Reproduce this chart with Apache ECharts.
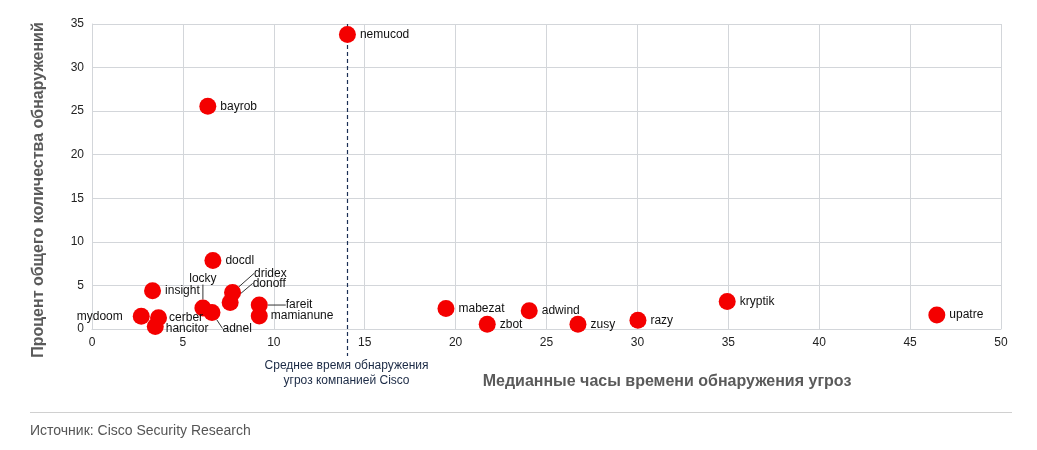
<!DOCTYPE html>
<html>
<head>
<meta charset="utf-8">
<script src="https://cdn.jsdelivr.net/npm/echarts@6/dist/echarts.min.js"></script>
<style>
html,body{margin:0;padding:0;background:#fff;}
#chart{width:1037px;height:450px;}
</style>
</head>
<body>
<div id="chart"></div>
<script>
// ---- data ----
var names = ['nemucod','bayrob','docdl','insight','dridex','donoff','locky','adnel','fareit','mamianune','mydoom','cerber','hancitor','mabezat','zbot','adwind','zusy','razy','kryptik','upatre'];
var hours = [14.05, 6.37, 6.65, 3.33, 7.73, 7.6, 6.1, 6.6, 9.2, 9.2, 2.71, 3.66, 3.48, 19.47, 21.74, 24.05, 26.73, 30.03, 34.94, 46.47];
var percents = [33.8, 25.55, 7.85, 4.4, 4.2, 3.05, 2.4, 1.9, 2.75, 1.5, 1.45, 1.3, 0.3, 2.35, 0.55, 2.1, 0.55, 1.0, 3.15, 1.6];
var xTicks = [0, 5, 10, 15, 20, 25, 30, 35, 40, 45, 50];
var yTicks = [0, 5, 10, 15, 20, 25, 30, 35];
var meanHours = 14;
var meanLabel = ['Среднее время обнаружения', 'угроз компанией Cisco'];
var xTitle = 'Медианные часы времени обнаружения угроз';
var yTitle = 'Процент общего количества обнаружений';
var sourceText = 'Источник: Cisco Security Research';

// ---- label placement (style, not data) ----
var labelPlace = {
  locky:   {position: 'top', distance: 5, dx: 0, dy: -10, line: true},
  adnel:   {position: 'right', distance: 4, dx: -2, dy: 16, line: true},
  dridex:  {position: 'right', distance: 4, dx: 9, dy: -19, line: true},
  donoff:  {position: 'right', distance: 4, dx: 10, dy: -19, line: true},
  fareit:  {position: 'right', distance: 4, dx: 14, dy: 0, line: true},
  mydoom:  {position: 'left', distance: 10},
  cerber:  {position: 'right', distance: 2},
  hancitor:{position: 'right', distance: 2, dy: 2},
  mamianune:{position: 'right', distance: 3}
};

var seriesData = names.map(function (n, i) {
  var p = labelPlace[n] || {};
  var item = {
    name: n,
    value: [hours[i], percents[i]],
    label: {position: p.position || 'right', distance: p.distance != null ? p.distance : 4}
  };
  if (p.line) item.labelLine = {show: true};
  return item;
});

var chart = echarts.init(document.getElementById('chart'), null, {renderer: 'canvas'});
var FONT = '"Liberation Sans", Arial, sans-serif';

var gridBox = {left: 92, right: 36, top: 24, bottom: 121};

chart.setOption({
  animation: false,
  backgroundColor: '#fff',
  grid: gridBox,
  xAxis: {
    type: 'value', min: xTicks[0], max: xTicks[xTicks.length - 1], interval: xTicks[1] - xTicks[0],
    axisLine: {show: true, lineStyle: {color: '#d3d6da', width: 1}},
    axisTick: {show: false},
    splitLine: {show: true, lineStyle: {color: '#d3d6da', width: 1}},
    axisLabel: {color: '#222', fontSize: 12, fontFamily: FONT, margin: 8}
  },
  yAxis: {
    type: 'value', min: yTicks[0], max: yTicks[yTicks.length - 1], interval: yTicks[1] - yTicks[0],
    axisLine: {show: true, lineStyle: {color: '#d3d6da', width: 1}},
    axisTick: {show: false},
    splitLine: {show: true, lineStyle: {color: '#d3d6da', width: 1}},
    axisLabel: {color: '#222', fontSize: 12, fontFamily: FONT, margin: 8}
  },
  series: [{
    type: 'scatter',
    symbolSize: 17,
    itemStyle: {color: '#f40000', opacity: 1},
    data: seriesData,
    z: 3,
    label: {
      show: true,
      formatter: '{b}',
      color: '#111',
      fontSize: 12,
      fontFamily: FONT
    },
    labelLine: {show: false, lineStyle: {color: '#333', width: 1}},
    labelLayout: function (params) {
      var n = names[params.dataIndex];
      var p = labelPlace[n];
      if (!p) return {};
      return {dx: p.dx || 0, dy: p.dy || 0};
    }
  }]
});

function drawExtras() {
  var mx = chart.convertToPixel({xAxisIndex: 0}, meanHours);
  var yTop = chart.convertToPixel({yAxisIndex: 0}, yTicks[yTicks.length - 1]);
  var yBottom = chart.convertToPixel({yAxisIndex: 0}, yTicks[0]);
  chart.setOption({
    graphic: [
      {
        type: 'line', z: 2,
        shape: {x1: Math.round(mx) + 0.5, y1: yTop, x2: Math.round(mx) + 0.5, y2: yBottom + 27},
        style: {stroke: '#1b2f55', lineWidth: 1.2, lineDash: [4, 3]}
      },
      {
        type: 'text', z: 5,
        x: mx, y: yBottom + 37,
        style: {text: meanLabel[0], fill: '#1b2a45', font: '12px ' + FONT, align: 'center', verticalAlign: 'middle'}
      },
      {
        type: 'text', z: 5,
        x: mx, y: yBottom + 52,
        style: {text: meanLabel[1], fill: '#1b2a45', font: '12px ' + FONT, align: 'center', verticalAlign: 'middle'}
      },
      {
        type: 'text', z: 5,
        x: 667, y: 382,
        style: {text: xTitle, fill: '#5a5a5a', font: 'bold 16px ' + FONT, align: 'center', verticalAlign: 'middle'}
      },
      {
        type: 'text', z: 5,
        x: 39, y: 190, rotation: Math.PI / 2,
        style: {text: yTitle, fill: '#5a5a5a', font: 'bold 16px ' + FONT, align: 'center', verticalAlign: 'middle'}
      },
      {
        type: 'line', z: 1,
        shape: {x1: 30, y1: 412.5, x2: 1012, y2: 412.5},
        style: {stroke: '#d0d0d0', lineWidth: 1}
      },
      {
        type: 'text', z: 5,
        x: 30, y: 431,
        style: {text: sourceText, fill: '#555', font: '14px ' + FONT, align: 'left', verticalAlign: 'middle'}
      }
    ]
  });
}
drawExtras();
</script>
</body>
</html>
